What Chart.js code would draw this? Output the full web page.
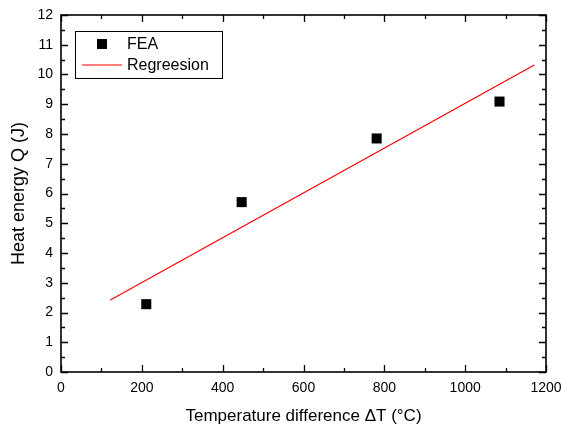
<!DOCTYPE html>
<html>
<head>
<meta charset="utf-8">
<script src="https://cdn.jsdelivr.net/npm/chart.js@4.4.0/dist/chart.umd.min.js"></script>
<style>
  body { margin: 0; background: #fff; }
</style>
</head>
<body>
<canvas id="heatChart" width="562" height="430"></canvas>
<script>
// FEA results
const feaDeltaT = [211, 447, 781, 1085];
const feaHeat = [2.28, 5.71, 7.85, 9.09];
// regression line end points
const regDeltaT = [122, 1171];
const regHeat = [2.42, 10.32];

const xMin = 0, xMax = 1200, xStep = 200;
const yMin = 0, yMax = 12, yStep = 1;

const fontFamily = "'Liberation Sans', Arial, sans-serif";

// inward major/minor ticks on all four sides + frame
const frameTicks = {
  id: "frameTicks",
  afterDatasetsDraw(chart) {
    const { ctx, chartArea: a, scales: { x, y } } = chart;
    ctx.save();
    ctx.strokeStyle = "#000";
    ctx.lineWidth = 1.3;
    ctx.beginPath();
    for (let v = xMin; v <= xMax; v += xStep / 2) {
      const px = Math.round(x.getPixelForValue(v)) + 0.5;
      const len = v % xStep === 0 ? 7 : 4;
      ctx.moveTo(px, a.bottom); ctx.lineTo(px, a.bottom - len);
      ctx.moveTo(px, a.top); ctx.lineTo(px, a.top + len);
    }
    for (let v = yMin; v <= yMax; v += yStep / 2) {
      const py = Math.round(y.getPixelForValue(v)) + 0.5;
      const len = v % yStep === 0 ? 7 : 4;
      ctx.moveTo(a.left, py); ctx.lineTo(a.left + len, py);
      ctx.moveTo(a.right, py); ctx.lineTo(a.right - len, py);
    }
    ctx.stroke();
    ctx.lineWidth = 1.6;
    ctx.strokeRect(a.left, a.top, a.right - a.left, a.bottom - a.top);
    ctx.restore();
  }
};

// boxed legend inside the plot, top-left
const boxLegend = {
  id: "boxLegend",
  afterDraw(chart) {
    const { ctx, chartArea: a } = chart;
    const sets = chart.data.datasets;
    const left = a.left + 14, top = a.top + 16, w = 147, h = 47;
    ctx.save();
    ctx.strokeStyle = "#000";
    ctx.lineWidth = 1;
    ctx.strokeRect(left + 0.5, top + 0.5, w, h);
    ctx.font = "16px " + fontFamily;
    ctx.fillStyle = "#000";
    ctx.textBaseline = "middle";
    sets.forEach((ds, i) => {
      const cy = top + 13 + i * 21;
      if (ds.showLine === false) {
        ctx.fillStyle = ds.backgroundColor;
        ctx.fillRect(left + 22, cy - 5, 10, 10);
      } else {
        ctx.strokeStyle = ds.borderColor;
        ctx.lineWidth = ds.borderWidth;
        ctx.beginPath();
        ctx.moveTo(left + 7, cy); ctx.lineTo(left + 47, cy);
        ctx.stroke();
      }
      ctx.fillStyle = "#000";
      ctx.fillText(ds.label, left + 52, cy + 1);
    });
    ctx.restore();
  }
};

new Chart(document.getElementById("heatChart"), {
  type: "scatter",
  data: {
    datasets: [
      {
        label: "FEA",
        data: feaDeltaT.map((t, i) => ({ x: t, y: feaHeat[i] })),
        showLine: false,
        pointStyle: "rect",
        pointRadius: 7.1,
        pointBorderWidth: 0,
        backgroundColor: "#000",
        borderColor: "#000"
      },
      {
        label: "Regreesion",
        data: regDeltaT.map((t, i) => ({ x: t, y: regHeat[i] })),
        showLine: true,
        borderColor: "#ff0000",
        borderWidth: 1.2,
        pointRadius: 0
      }
    ]
  },
  options: {
    responsive: false,
    animation: false,
    layout: { padding: { top: 15, right: 16, left: 0, bottom: 0 } },
    plugins: { legend: { display: false }, tooltip: { enabled: false } },
    scales: {
      x: {
        type: "linear",
        min: xMin, max: xMax,
        afterFit(s) { s.height = 58; s.paddingLeft = 0; s.paddingRight = 0; },
        border: { display: false },
        grid: { display: false, drawTicks: false },
        ticks: {
          stepSize: xStep, padding: 8, color: "#000",
          font: { family: fontFamily, size: 14 },
          callback: (v) => String(v)
        },
        title: {
          display: true,
          text: "Temperature difference \u0394T (\u00B0C)",
          color: "#000",
          font: { family: fontFamily, size: 17 },
          padding: { top: 0, bottom: 3 }
        }
      },
      y: {
        min: yMin, max: yMax,
        afterFit(s) { s.width = 61; s.paddingTop = 0; s.paddingBottom = 0; },
        border: { display: false },
        grid: { display: false, drawTicks: false },
        ticks: {
          stepSize: yStep, padding: 8, color: "#000",
          font: { family: fontFamily, size: 14 },
          callback: (v) => String(v)
        },
        title: {
          display: true,
          text: "Heat energy Q (J)",
          color: "#000",
          font: { family: fontFamily, size: 18 },
          padding: { top: 8, bottom: 0 }
        }
      }
    }
  },
  plugins: [frameTicks, boxLegend]
});
</script>
</body>
</html>
